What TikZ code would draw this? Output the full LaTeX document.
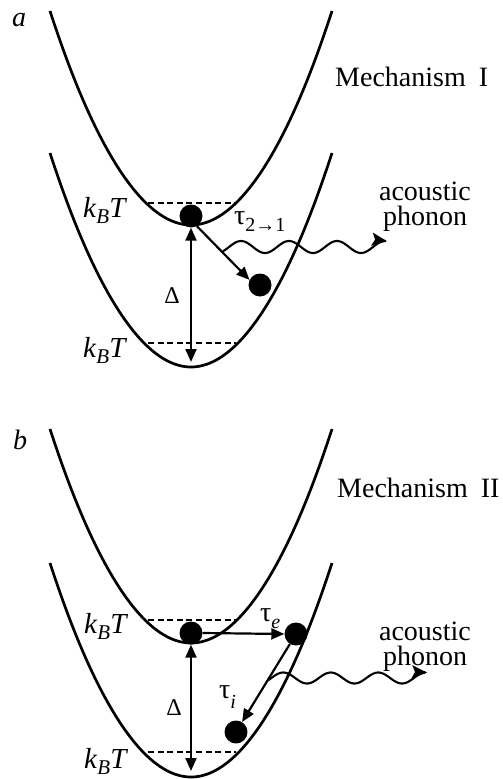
\documentclass[tikz,border=0pt]{standalone}
\usepackage{fontspec}
\setmainfont{Liberation Serif}
\usetikzlibrary{arrows.meta}
\newcommand\myKBT{{\fontsize{29}{29}\selectfont\textit{k}\raisebox{-6pt}{\fontsize{21}{21}\selectfont\textit{B}}\textit{T}}}
\newcommand\myPhonon{\begin{tabular}[t]{@{}c@{}}acoustic\\phonon\end{tabular}}
\begin{document}
\begin{tikzpicture}[x=1pt,y=-1pt,
  curve/.style={line width=2.7pt},
  lvl/.style={line width=2.1pt, dash pattern=on 6pt off 3.6pt},
  ball/.style={circle, fill=black, minimum size=23pt, inner sep=0pt},
  arr/.style={line width=2.2pt, -{Triangle[length=13pt,width=11pt]}},
  darr/.style={line width=2.2pt, {Triangle[length=13pt,width=11pt]}-{Triangle[length=13pt,width=11pt]}},
  wave/.style={line width=2.1pt, -{Stealth[length=15pt,width=13pt,inset=3pt]}},
  lab/.style={font=\fontsize{28}{28}\selectfont, inner sep=0pt},
  phon/.style={font=\fontsize{28}{21}\selectfont\renewcommand\arraystretch{1}, inner sep=0pt, anchor=base},
]
\useasboundingbox (0,0) rectangle (503,779);

% ---------- panel a ----------
\draw[curve] (50,11) parabola bend (191,225) (332,11);
\draw[curve] (50,153) parabola bend (191,367) (332,153);
\coordinate (ua1) at (148,203); \coordinate (ua2) at (236,203);
\coordinate (la1) at (148,343); \coordinate (la2) at (236,343);
\draw[lvl] (ua1) -- (ua2);
\draw[lvl] (la1) -- (la2);
\node[ball] (a1) at (191,216) {};
\node[ball] (a2) at (260,285) {};
\coordinate (a0) at (191,362);
\draw[darr] (a1.south) -- (a0);
\draw[arr] (a1.-60) -- (a2.154);
\draw[wave] plot[domain=223:387, samples=120] (\x, {247 + 6*cos(7.5*(\x-217))});

\node[lab, anchor=base west] (la) at (12,26) {\textit{a}};
\node[lab, anchor=base west] (m1) at (335,86) {Mechanism\hspace{13pt}I};
\node[lab, anchor=base west] (ka1) at (83,217) {\myKBT};
\node[lab, anchor=base west] (ka2) at (83,357) {\myKBT};
\node[lab, anchor=base] (da) at (172,303) {\fontsize{24}{24}\selectfont Δ};
\node[lab, anchor=base west] (t21) at (234,224) {τ\raisebox{-7pt}{\fontsize{20}{20}\selectfont 2→1}};
\node[phon] (pha) at (425,200) {\myPhonon};

% ---------- panel b ----------
\draw[curve] (50,429) parabola bend (191,643) (332,429);
\draw[curve] (50,563) parabola bend (191,777) (332,563);
\coordinate (ub1) at (148,620); \coordinate (ub2) at (236,620);
\coordinate (lb1) at (148,752); \coordinate (lb2) at (236,752);
\draw[lvl] (ub1) -- (ub2);
\draw[lvl] (lb1) -- (lb2);
\node[ball] (b1) at (191,633) {};
\node[ball] (b2) at (296,634) {};
\node[ball] (b3) at (236,732) {};
\coordinate (b0) at (191,771);
\draw[darr] (b1.south) -- (b0);
\draw[arr] (b1.east) -- (b2.west);
\draw[arr] (b2) -- (b3);
\draw[wave] plot[domain=268:427, samples=120] (\x, {678 + 5.5*cos(7.579*(\x-259.5))});

\node[lab, anchor=base west] (lb) at (13,449) {\textit{b}};
\node[lab, anchor=base west] (m2) at (337,497) {Mechanism\hspace{13pt}II};
\node[lab, anchor=base west] (kb1) at (84,633) {\myKBT};
\node[lab, anchor=base west] (kb2) at (84,768) {\myKBT};
\node[lab, anchor=base] (db) at (174,715) {\fontsize{24}{24}\selectfont Δ};
\node[lab, anchor=base west] (te) at (260,621) {τ\raisebox{-7pt}{\fontsize{20}{20}\selectfont\textit{e}}};
\node[lab, anchor=base west] (ti) at (219,698) {τ\raisebox{-10pt}{\fontsize{20}{20}\selectfont\textit{i}}};
\node[phon] (phb) at (425,640) {\myPhonon};
\end{tikzpicture}
\end{document}
